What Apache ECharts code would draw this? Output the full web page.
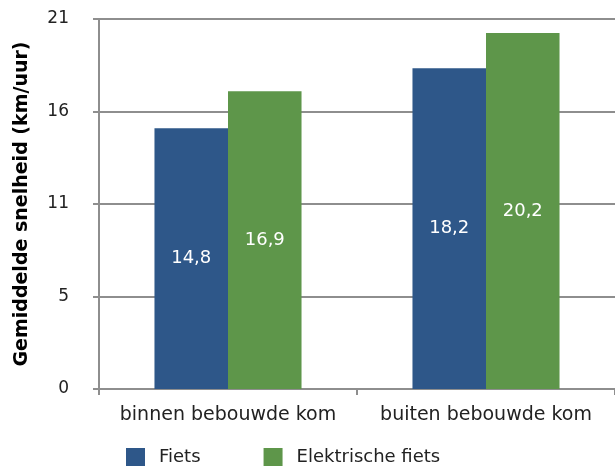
<!DOCTYPE html>
<html>
<head>
<meta charset="utf-8">
<script src="https://cdn.jsdelivr.net/npm/echarts@6/dist/echarts.min.js"></script>
<style>
  html, body { margin: 0; padding: 0; background: #fff; }
  #chart { width: 615px; height: 466px; }
</style>
</head>
<body>
<div id="chart"></div>
<script>
// Gemiddelde snelheid per fietstype, binnen en buiten de bebouwde kom
const categories = ['binnen bebouwde kom', 'buiten bebouwde kom'];
const seriesNames = ['Fiets', 'Elektrische fiets'];
const fietsValues = [14.8, 18.2];
const eFietsValues = [16.9, 20.2];
const yMax = 21;
const yInterval = 5.25;

const FONT = 'DejaVu Sans';
const GRID_COLOR = '#8e8e8e';
const TEXT_COLOR = '#222222';

const fmtComma = v => v.toFixed(1).replace('.', ',');

const chart = echarts.init(document.getElementById('chart'), null, { renderer: 'canvas' });

const labelStyle = {
  show: true,
  position: 'inside',
  color: '#ffffff',
  fontFamily: FONT,
  fontSize: 18,
  formatter: p => fmtComma(p.value)
};

chart.setOption({
  animation: false,
  textStyle: { fontFamily: FONT },
  grid: { left: 99, right: -1, top: 19, bottom: 77, containLabel: false },
  legend: {
    data: seriesNames,
    top: 448,
    left: 126,
    padding: 0,
    itemWidth: 19,
    itemHeight: 19,
    itemGap: 63,
    icon: 'rect',
    textStyle: { fontFamily: FONT, fontSize: 18, color: TEXT_COLOR, padding: [0, 0, 0, 9] }
  },
  xAxis: {
    type: 'category',
    data: categories,
    axisLine: { show: true, lineStyle: { color: GRID_COLOR, width: 2 } },
    axisTick: { show: true, interval: 0, length: 6, lineStyle: { color: GRID_COLOR, width: 2 } },
    axisLabel: { interval: 0, hideOverlap: false, fontFamily: FONT, fontSize: 19, color: TEXT_COLOR, margin: 17 }
  },
  yAxis: {
    type: 'value',
    min: 0,
    max: yMax,
    interval: yInterval,
    name: 'Gemiddelde snelheid (km/uur)',
    nameLocation: 'middle',
    nameGap: 67,
    nameTextStyle: { fontFamily: FONT, fontSize: 19, fontWeight: 'bold', color: '#000' },
    axisLine: { show: true, lineStyle: { color: GRID_COLOR, width: 2 } },
    axisTick: { show: true, length: 6, lineStyle: { color: GRID_COLOR, width: 2 } },
    splitLine: { show: true, lineStyle: { color: GRID_COLOR, width: 2 } },
    axisLabel: {
      fontFamily: FONT, fontSize: 17, color: TEXT_COLOR, margin: 30,
      padding: [5, 0, 0, 0],
      formatter: v => String(Math.round(v))
    }
  },
  series: [
    {
      name: seriesNames[0],
      type: 'bar',
      data: fietsValues,
      barWidth: '28.5%',
      barGap: '0%',
      itemStyle: { color: '#2e5789' },
      label: labelStyle
    },
    {
      name: seriesNames[1],
      type: 'bar',
      data: eFietsValues,
      barWidth: '28.5%',
      itemStyle: { color: '#5e964a' },
      label: labelStyle
    }
  ]
});
</script>
</body>
</html>
